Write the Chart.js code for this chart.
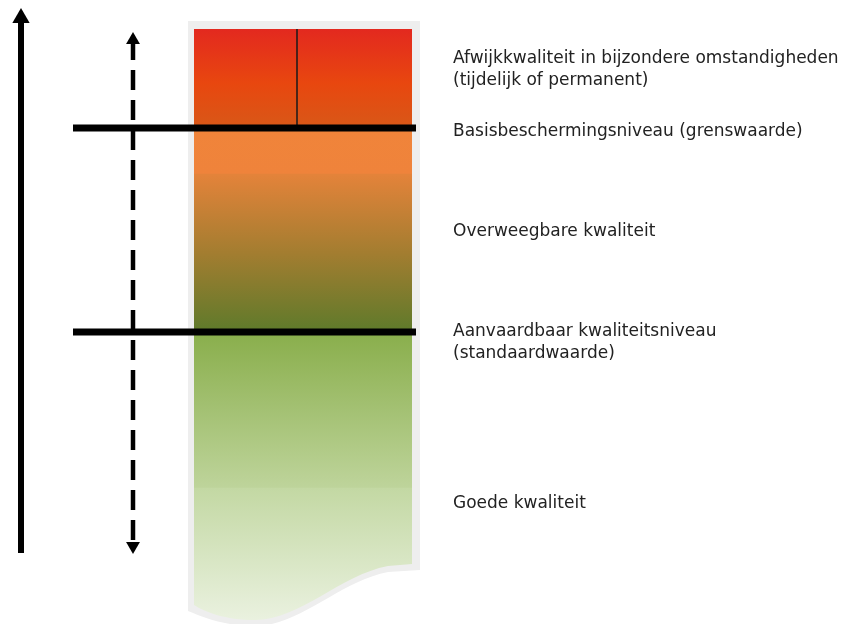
<!DOCTYPE html>
<html>
<head>
<meta charset="utf-8">
<script src="https://cdn.jsdelivr.net/npm/chart.js@4.4.1/dist/chart.umd.min.js"></script>
<style>
  body { margin: 0; background: #fff; }
  #wrap { width: 858px; height: 624px; }
</style>
</head>
<body>
<div id="wrap"><canvas id="myChart"></canvas></div>
<script>
// kwaliteitsbanden (niveau gemeten van boven naar beneden)
const bandNames = ['Afwijkkwaliteit', 'Boven grenswaarde', 'Overweegbare kwaliteit', 'Aanvaardbaar', 'Goede kwaliteit'];
const bandFrom = [29, 128, 174, 332, 488];
const bandTo = [128, 174, 332, 488, 624];

// normniveaus
const thresholdNames = ['Basisbeschermingsniveau', 'Aanvaardbaar kwaliteitsniveau'];
const thresholdLevels = [128, 332];

// teksten rechts
const labelLines = [
  ['Afwijkkwaliteit in bijzondere omstandigheden', '(tijdelijk of permanent)'],
  ['Basisbeschermingsniveau (grenswaarde)'],
  ['Overweegbare kwaliteit'],
  ['Aanvaardbaar kwaliteitsniveau', '(standaardwaarde)'],
  ['Goede kwaliteit']
];
const labelLevels = [63, 136, 236, 336, 508];

// kleuren per band: [offset, kleur]
const bandStops = [
  [[0, '#e3291f'], [0.55, '#e8470f'], [1, '#d85818']],
  [[0, '#f0843a'], [1, '#ef833b']],
  [[0, '#e4833a'], [0.5, '#a37d30'], [1, '#5e7a2b']],
  [[0, '#89ae4b'], [1, '#bed49b']],
  [[0, '#c3d8a3'], [1, '#ebf2e1']]
];

// layout
const colCenter = 303, colWidth = 218;
const lineLeft = 73, lineRight = 416;
const splitX = 297;
const solidX = 21, dashX = 133;
const textX = 453;

function bandColor(c) {
  const chart = c.chart;
  if (!chart.chartArea) return '#ccc';
  const y = chart.scales.y;
  const i = c.dataIndex;
  const g = chart.ctx.createLinearGradient(0, y.getPixelForValue(bandFrom[i]), 0, y.getPixelForValue(bandTo[i]));
  bandStops[i].forEach(s => g.addColorStop(s[0], s[1]));
  return g;
}

function wavePath(ctx, x, y, out) {
  const d = out ? 6 : 0;
  const px = v => x.getPixelForValue(v), py = v => y.getPixelForValue(v);
  ctx.beginPath();
  ctx.moveTo(px(194 - d), py(29 - (out ? 8 : 0)));
  ctx.lineTo(px(412 + (out ? 8 : 0)), py(29 - (out ? 8 : 0)));
  ctx.lineTo(px(412 + (out ? 8 : 0)), py(564 + d));
  ctx.lineTo(px(388), py(566 + d));
  ctx.bezierCurveTo(px(340), py(575 + d), px(300), py(620 + d), px(255), py(620 + d));
  ctx.bezierCurveTo(px(225), py(620 + d), px(205), py(612 + d), px(194 - d), py(605 + d));
  ctx.closePath();
}

const panelPlugin = {
  id: 'panel',
  beforeDatasetsDraw(chart) {
    const ctx = chart.ctx;
    ctx.save();
    wavePath(ctx, chart.scales.x, chart.scales.y, true);
    ctx.fillStyle = '#eeeeee';
    ctx.fill();
    ctx.restore();
  },
  beforeDatasetDraw(chart, args) {
    if (args.meta.type !== 'bar') return;
    const ctx = chart.ctx;
    ctx.save();
    wavePath(ctx, chart.scales.x, chart.scales.y, false);
    ctx.clip();
  },
  afterDatasetDraw(chart, args) {
    if (args.meta.type !== 'bar') return;
    chart.ctx.restore();
  },
  afterDraw(chart) {
    const ctx = chart.ctx;
    const x = chart.scales.x, y = chart.scales.y;
    ctx.save();
    ctx.font = '17px "DejaVu Sans", Verdana, sans-serif';
    ctx.fillStyle = '#222';
    ctx.textBaseline = 'alphabetic';
    labelLines.forEach((lines, i) => {
      lines.forEach((t, j) => {
        ctx.fillText(t, x.getPixelForValue(textX), y.getPixelForValue(labelLevels[i] + j * 22.3));
      });
    });
    ctx.restore();
  }
};

const ctx = document.getElementById('myChart').getContext('2d');

const myChart = new Chart(ctx, {
  type: 'bar',
  data: {
    datasets: [
      {
        label: 'banden',
        data: bandNames.map((n, i) => ({ x: colCenter, y: [bandFrom[i], bandTo[i]] })),
        backgroundColor: bandColor,
        borderWidth: 0,
        barThickness: colWidth,
        grouped: false,
        order: 4
      },
      {
        type: 'line',
        label: 'scheiding',
        data: [{ x: splitX, y: bandFrom[0] }, { x: splitX, y: thresholdLevels[0] }],
        borderColor: '#1a1a1a',
        borderWidth: 1.5,
        pointRadius: 0,
        order: 3
      },
      ...thresholdNames.map((n, i) => ({
        type: 'line',
        label: n,
        data: [{ x: lineLeft, y: thresholdLevels[i] }, { x: lineRight, y: thresholdLevels[i] }],
        borderColor: '#000',
        borderWidth: 7,
        pointRadius: 0,
        order: 1
      })),
      {
        type: 'line',
        label: 'pijl',
        data: [{ x: solidX, y: 553 }, { x: solidX, y: 18 }],
        borderColor: '#000',
        borderWidth: 6,
        pointStyle: 'triangle',
        pointRadius: [0, 10],
        pointBackgroundColor: '#000',
        pointBorderWidth: 0,
        order: 1
      },
      {
        type: 'line',
        label: 'pijl gestreept',
        data: [{ x: dashX, y: 40 }, { x: dashX, y: 546 }],
        borderColor: '#000',
        borderWidth: 4.5,
        borderDash: [20, 10],
        pointStyle: 'triangle',
        pointRadius: 8,
        pointRotation: [0, 180],
        pointBackgroundColor: '#000',
        pointBorderWidth: 0,
        order: 1
      }
    ]
  },
  options: {
    responsive: true,
    maintainAspectRatio: false,
    animation: false,
    layout: { padding: 0, autoPadding: false },
    plugins: { legend: { display: false }, tooltip: { enabled: false } },
    scales: {
      x: { type: 'linear', min: 0, max: 858, offset: false, display: false },
      y: { type: 'linear', min: 0, max: 624, reverse: true, display: false }
    }
  },
  plugins: [panelPlugin]
});
</script>
</body>
</html>
